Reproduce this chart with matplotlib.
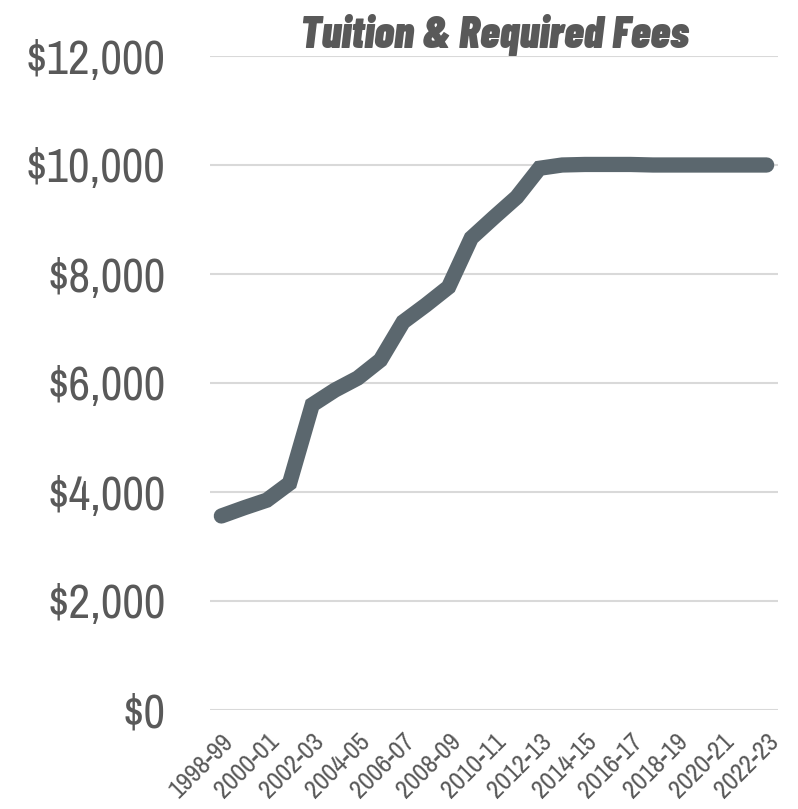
import matplotlib
matplotlib.use("Agg")
import matplotlib.pyplot as plt
from matplotlib.ticker import FuncFormatter

years = ["1998-99", "1999-00", "2000-01", "2001-02", "2002-03", "2003-04", "2004-05",
         "2005-06", "2006-07", "2007-08", "2008-09", "2009-10", "2010-11", "2011-12",
         "2012-13", "2013-14", "2014-15", "2015-16", "2016-17", "2017-18", "2018-19",
         "2019-20", "2020-21", "2021-22", "2022-23"]
tuition = [3560, 3710, 3850, 4160, 5600, 5870, 6090, 6420, 7120, 7430, 7760, 8660,
           9040, 9410, 9940, 10000, 10010, 10010, 10010, 10000, 10000, 10000, 10000,
           10000, 10000]
y_ticks = [0, 2000, 4000, 6000, 8000, 10000, 12000]
title = "Tuition & Required Fees"

narrow = ["Archivo Narrow", "DejaVu Sans"]
title_font = ["Barlow Condensed", "DejaVu Sans"]
txt = "#595959"

fig = plt.figure(figsize=(7.98, 8.09), dpi=100)
ax = fig.add_axes([210/798, 1 - 710/809, (778-210)/798, (710-56)/809])

x = list(range(len(years)))
ax.plot(x, tuition, color="#5b676e", linewidth=11, solid_capstyle="round",
        solid_joinstyle="miter", zorder=3)

ax.set_xlim(-0.5, len(years) - 0.5)
ax.set_ylim(0, 12000)
ax.set_yticks(y_ticks)
ax.yaxis.set_major_formatter(FuncFormatter(lambda v, p: f"${v:,.0f}"))
ax.grid(axis="y", color="#d9d9d9", linewidth=1.5, zorder=0)
for s in ax.spines.values():
    s.set_visible(False)
ax.tick_params(axis="both", length=0)
ax.tick_params(axis="y", pad=32)
for lab in ax.get_yticklabels():
    lab.set_fontfamily(narrow)
    lab.set_fontsize(34)
    lab.set_color(txt)

ax.set_xticks(x[::2])
ax.set_xticklabels(years[::2], rotation=45, ha="right", va="top",
                   rotation_mode="anchor", fontsize=19, color=txt, family=narrow)
ax.tick_params(axis="x", pad=14)

ax.set_title(title, fontsize=32, fontweight=900, fontstyle="italic",
             color=txt, family=title_font, pad=4)

fig.savefig("out.png", dpi=100)
